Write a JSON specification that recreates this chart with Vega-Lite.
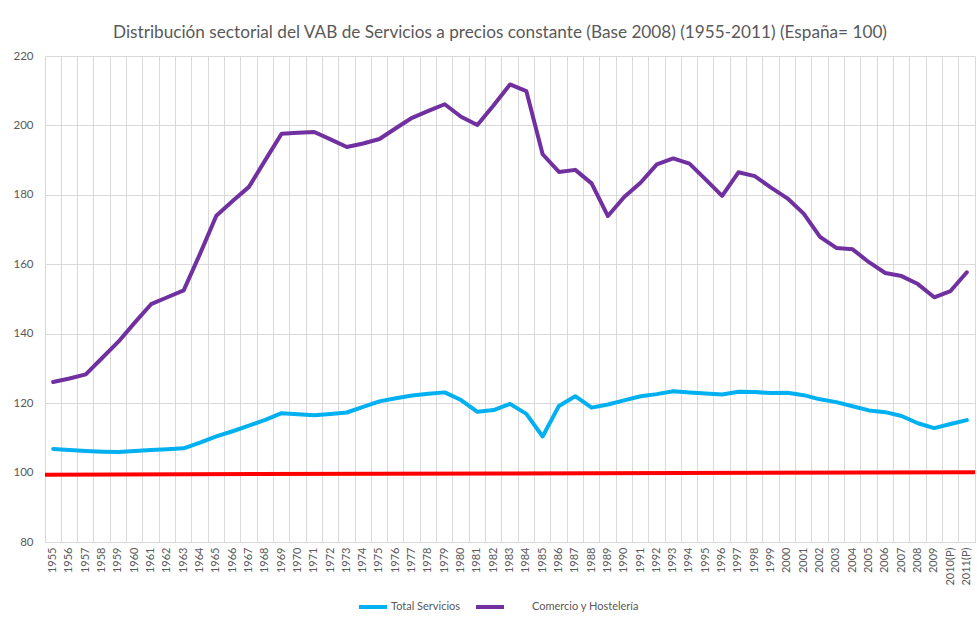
{
  "$schema": "https://vega.github.io/schema/vega-lite/v6.json",
  "autosize": "none",
  "width": 930,
  "height": 486,
  "padding": {"left": 45, "top": 56, "right": 2, "bottom": 77},
  "background": "white",
  "title": {
    "text": "Distribución sectorial del VAB de Servicios a precios constante (Base 2008) (1955-2011) (España= 100)",
    "font": "Lato",
    "fontSize": 17.2,
    "fontWeight": "normal",
    "color": "#595959",
    "anchor": "middle",
    "offset": 9,
    "dx": -10
  },
  "config": {
    "view": {"stroke": "#d9d9d9", "strokeWidth": 1},
    "axis": {
      "labelFont": "Lato",
      "labelColor": "#595959",
      "gridColor": "#d9d9d9",
      "gridWidth": 1,
      "domain": false,
      "ticks": false,
      "title": null
    },
    "legend": {
      "labelFont": "Lato",
      "labelColor": "#595959",
      "labelFontSize": 11
    }
  },
  "datasets": {
    "series": [
      {"year": "1955", "Total Servicios": 106.8, "Comercio y Hostelería": 126.1},
      {"year": "1956", "Total Servicios": 106.5, "Comercio y Hostelería": 127.1},
      {"year": "1957", "Total Servicios": 106.2, "Comercio y Hostelería": 128.3},
      {"year": "1958", "Total Servicios": 106.0, "Comercio y Hostelería": 133.0},
      {"year": "1959", "Total Servicios": 105.9, "Comercio y Hostelería": 137.7},
      {"year": "1960", "Total Servicios": 106.2, "Comercio y Hostelería": 143.2},
      {"year": "1961", "Total Servicios": 106.5, "Comercio y Hostelería": 148.5},
      {"year": "1962", "Total Servicios": 106.7, "Comercio y Hostelería": 150.5},
      {"year": "1963", "Total Servicios": 107.0, "Comercio y Hostelería": 152.5},
      {"year": "1964", "Total Servicios": 108.6, "Comercio y Hostelería": 163.0},
      {"year": "1965", "Total Servicios": 110.4, "Comercio y Hostelería": 174.0},
      {"year": "1966", "Total Servicios": 111.9, "Comercio y Hostelería": 178.2},
      {"year": "1967", "Total Servicios": 113.5, "Comercio y Hostelería": 182.3},
      {"year": "1968", "Total Servicios": 115.2, "Comercio y Hostelería": 190.0},
      {"year": "1969", "Total Servicios": 117.1, "Comercio y Hostelería": 197.6},
      {"year": "1970", "Total Servicios": 116.8, "Comercio y Hostelería": 197.9},
      {"year": "1971", "Total Servicios": 116.5, "Comercio y Hostelería": 198.1},
      {"year": "1972", "Total Servicios": 116.9, "Comercio y Hostelería": 196.0},
      {"year": "1973", "Total Servicios": 117.3, "Comercio y Hostelería": 193.8},
      {"year": "1974", "Total Servicios": 118.9, "Comercio y Hostelería": 194.8},
      {"year": "1975", "Total Servicios": 120.5, "Comercio y Hostelería": 196.1},
      {"year": "1976", "Total Servicios": 121.4, "Comercio y Hostelería": 199.2},
      {"year": "1977", "Total Servicios": 122.2, "Comercio y Hostelería": 202.2},
      {"year": "1978", "Total Servicios": 122.7, "Comercio y Hostelería": 204.2},
      {"year": "1979", "Total Servicios": 123.1, "Comercio y Hostelería": 206.1},
      {"year": "1980", "Total Servicios": 120.9, "Comercio y Hostelería": 202.5},
      {"year": "1981", "Total Servicios": 117.5, "Comercio y Hostelería": 200.1},
      {"year": "1982", "Total Servicios": 118.0, "Comercio y Hostelería": 205.8},
      {"year": "1983", "Total Servicios": 119.8, "Comercio y Hostelería": 211.8},
      {"year": "1984", "Total Servicios": 116.9, "Comercio y Hostelería": 209.9},
      {"year": "1985", "Total Servicios": 110.4, "Comercio y Hostelería": 191.7},
      {"year": "1986", "Total Servicios": 119.2, "Comercio y Hostelería": 186.6},
      {"year": "1987", "Total Servicios": 122.0, "Comercio y Hostelería": 187.2},
      {"year": "1988", "Total Servicios": 118.7, "Comercio y Hostelería": 183.3},
      {"year": "1989", "Total Servicios": 119.6, "Comercio y Hostelería": 173.9},
      {"year": "1990", "Total Servicios": 120.8, "Comercio y Hostelería": 179.4},
      {"year": "1991", "Total Servicios": 122.0, "Comercio y Hostelería": 183.5},
      {"year": "1992", "Total Servicios": 122.6, "Comercio y Hostelería": 188.8},
      {"year": "1993", "Total Servicios": 123.4, "Comercio y Hostelería": 190.5},
      {"year": "1994", "Total Servicios": 123.1, "Comercio y Hostelería": 189.0},
      {"year": "1995", "Total Servicios": 122.8, "Comercio y Hostelería": 184.4},
      {"year": "1996", "Total Servicios": 122.5, "Comercio y Hostelería": 179.7},
      {"year": "1997", "Total Servicios": 123.3, "Comercio y Hostelería": 186.5},
      {"year": "1998", "Total Servicios": 123.2, "Comercio y Hostelería": 185.4},
      {"year": "1999", "Total Servicios": 122.9, "Comercio y Hostelería": 182.1},
      {"year": "2000", "Total Servicios": 123.0, "Comercio y Hostelería": 179.0},
      {"year": "2001", "Total Servicios": 122.3, "Comercio y Hostelería": 174.6},
      {"year": "2002", "Total Servicios": 121.1, "Comercio y Hostelería": 167.9},
      {"year": "2003", "Total Servicios": 120.3, "Comercio y Hostelería": 164.7},
      {"year": "2004", "Total Servicios": 119.1, "Comercio y Hostelería": 164.3},
      {"year": "2005", "Total Servicios": 117.9, "Comercio y Hostelería": 160.6},
      {"year": "2006", "Total Servicios": 117.4, "Comercio y Hostelería": 157.5},
      {"year": "2007", "Total Servicios": 116.3, "Comercio y Hostelería": 156.6},
      {"year": "2008", "Total Servicios": 114.2, "Comercio y Hostelería": 154.3},
      {"year": "2009", "Total Servicios": 112.8, "Comercio y Hostelería": 150.5},
      {"year": "2010(P)", "Total Servicios": 114.0, "Comercio y Hostelería": 152.3},
      {"year": "2011(P)", "Total Servicios": 115.1, "Comercio y Hostelería": 157.7}
    ],
    "espana": [
      {"pos": 0, "valor": 99.4},
      {"pos": 1, "valor": 100.1}
    ]
  },
  "layer": [
    {
      "data": {"name": "espana"},
      "mark": {"type": "line", "color": "#FF0000", "strokeWidth": 4},
      "encoding": {
        "x": {"field": "pos", "type": "quantitative", "scale": {"domain": [0, 1], "nice": false, "zero": false}, "axis": null},
        "y": {"field": "valor", "type": "quantitative"}
      }
    },
    {
      "data": {"name": "series"},
      "transform": [
        {"fold": ["Total Servicios", "Comercio y Hostelería"], "as": ["serie", "valor"]}
      ],
      "mark": {"type": "line", "strokeWidth": 4, "strokeJoin": "round", "strokeCap": "round"},
      "encoding": {
        "x": {
          "field": "year",
          "type": "nominal",
          "sort": null,
          "scale": {"type": "band", "paddingInner": 0, "paddingOuter": 0},
          "axis": {
            "grid": true,
            "bandPosition": 0,
            "labelAngle": -90,
            "labelFontSize": 11,
            "labelPadding": 5
          }
        },
        "y": {
          "field": "valor",
          "type": "quantitative",
          "scale": {"domain": [80, 220], "nice": false, "zero": false},
          "axis": {
            "values": [80, 100, 120, 140, 160, 180, 200, 220],
            "grid": true,
            "labelFontSize": 11.5,
            "labelPadding": 12
          }
        },
        "color": {
          "field": "serie",
          "type": "nominal",
          "scale": {"domain": ["Total Servicios", "Comercio y Hostelería"], "range": ["#00B0F0", "#7030A0"]},
          "legend": {
            "title": null,
            "orient": "none",
            "direction": "horizontal",
            "legendX": 312,
            "legendY": 535,
            "symbolType": "stroke",
            "symbolSize": 784,
            "symbolStrokeWidth": 4,
            "labelOffset": 2,
            "columnPadding": 7,
            "labelExpr": "datum.label == 'Comercio y Hostelería' ? '\u2800\u2800\u2800Comercio y Hostelería' : datum.label"
          }
        }
      }
    }
  ],
  "resolve": {"scale": {"x": "independent"}}
}
